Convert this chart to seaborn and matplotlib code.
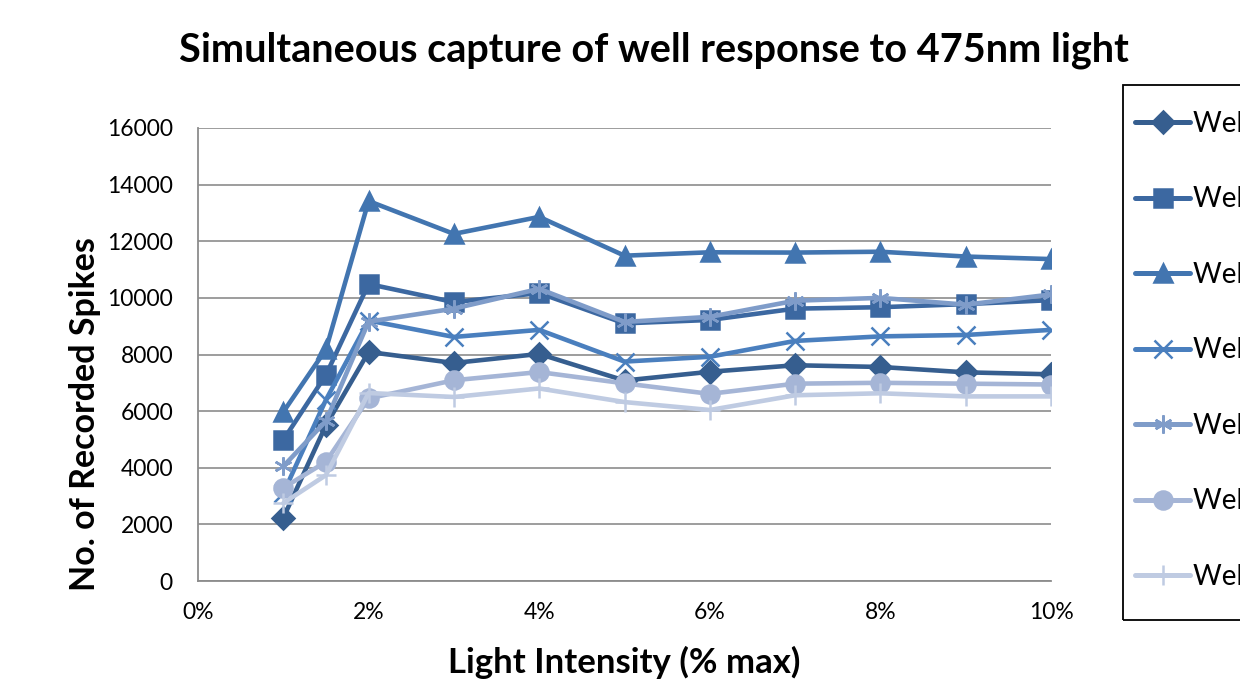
import numpy as np
import pandas as pd
import matplotlib
matplotlib.use("Agg")
import matplotlib.pyplot as plt
import seaborn as sns
from matplotlib.lines import Line2D
from matplotlib.patches import Rectangle

intensity = [1, 1.5, 2, 3, 4, 5, 6, 7, 8, 9, 10]
wells = ["Well 1", "Well 2", "Well 3", "Well 4", "Well 5", "Well 6", "Well 7"]
well1 = [2230, 5500, 8090, 7700, 8020, 7080, 7390, 7620, 7560, 7370, 7300]
well2 = [4980, 7280, 10490, 9850, 10170, 9100, 9220, 9620, 9670, 9780, 9920]
well3 = [5970, 8180, 13420, 12260, 12860, 11490, 11610, 11600, 11630, 11460, 11370]
well4 = [3100, 6400, 9200, 8620, 8870, 7750, 7920, 8480, 8640, 8690, 8870]
well5 = [4050, 5650, 9160, 9620, 10320, 9150, 9330, 9900, 10000, 9760, 10120]
well6 = [3290, 4210, 6450, 7090, 7380, 6980, 6610, 6970, 7000, 6970, 6940]
well7 = [2750, 3740, 6640, 6500, 6800, 6320, 6040, 6560, 6630, 6520, 6520]
series = [well1, well2, well3, well4, well5, well6, well7]

colors = ["#365E8F", "#3C68A1", "#4275B0", "#4A7FBE", "#7F9CC9", "#A5B5D6", "#BFCBE2"]
markers = ["D", "s", "^", "x", (6, 2, 0), "o", "+"]
msizes = [11, 13, 13, 13, 13, 13, 14]

sns.set_theme(style="white")
plt.rcParams["font.family"] = ["Lato", "DejaVu Sans"]
plt.rcParams["text.color"] = "black"

fig = plt.figure(figsize=(12.4, 6.79), dpi=100)
W, H = 1240, 679
ax = fig.add_axes([198/W, 1-581/H, (1051-198)/W, (581-128)/H])
ax.yaxis.grid(True, color="#8C8C8C", linewidth=1.2)
ax.set_axisbelow(True)

for name, vals, c, m, ms in zip(wells, series, colors, markers, msizes):
    d = pd.DataFrame({"Intensity": intensity, "Spikes": vals})
    sns.lineplot(data=d, x="Intensity", y="Spikes", color=c, marker=m,
                 markersize=ms, markeredgecolor=c, markerfacecolor=c,
                 markeredgewidth=1.8, linewidth=3.3, ax=ax, legend=False)

ax.set_xlim(0, 10)
ax.set_ylim(0, 16000)
ax.set_xticks(np.arange(0, 11, 2))
ax.set_xticklabels([f"{int(v)}%" for v in np.arange(0, 11, 2)])
ax.set_yticks(np.arange(0, 16001, 2000))
ax.tick_params(axis="both", labelsize=16.5, labelcolor="black", length=6, width=1.2,
               direction="out", color="#8C8C8C")
ax.tick_params(axis="x", pad=9)
ax.tick_params(axis="y", pad=12)
for s in ["top", "right"]:
    ax.spines[s].set_visible(False)
for s in ["left", "bottom"]:
    ax.spines[s].set_color("#8C8C8C")
    ax.spines[s].set_linewidth(1.3)

ax.set_xlabel("Light Intensity (% max)", fontsize=25, fontweight="bold", color="black")
ax.set_ylabel("No. of Recorded Spikes", fontsize=24.5, fontweight="bold", color="black")
ax.xaxis.set_label_coords(0.5, (581-646)/453)
ax.yaxis.set_label_coords((101-198)/853, (581-414)/453)
fig.text(654/W, 1-50/H, "Simultaneous capture of well response to 475nm light",
         fontsize=28.5, fontweight="bold", ha="center", va="center", color="black")

# legend frame (extends past the right edge, as in the reference)
fig.patches.append(Rectangle((1123/W, 1-620/H), 200/W, (620-85)/H,
                             transform=fig.transFigure, fill=False,
                             edgecolor="black", linewidth=1.3, figure=fig))
handles = [Line2D([0], [0], color=c, marker=m, markersize=ms, linewidth=3.6,
                  markeredgecolor=c, markerfacecolor=c, markeredgewidth=1.8)
           for c, m, ms in zip(colors, markers, msizes)]
leg = fig.legend(handles, wells, loc="upper left",
                 bbox_to_anchor=(1135/W, 1-111/H), frameon=False,
                 fontsize=20, labelspacing=1.78, handlelength=1.98,
                 handletextpad=0.11, borderpad=0, borderaxespad=0)

fig.savefig("out.png", dpi=100)
